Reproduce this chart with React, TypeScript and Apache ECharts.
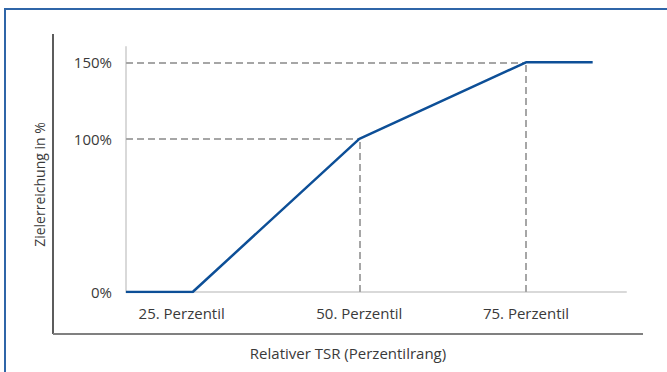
import React, { useEffect, useRef } from "react";
import * as echarts from "echarts";

const xValues = [15, 25, 50, 75, 85];
const yValues = [0, 0, 100, 150, 150];
const xTickValues = [25, 50, 75];
const xTickLabels = ["25. Perzentil", "50. Perzentil", "75. Perzentil"];
const yTickValues = [0, 100, 150];
const refPoints: [number, number][] = [
  [50, 100],
  [75, 150],
];
const X_MIN = 15;
const X_MAX = 90;
const Y_MIN = 0;
const Y_MAX = 160;

export default function App() {
  const ref = useRef<HTMLDivElement>(null);
  useEffect(() => {
    if (!ref.current) return;
    const chart = echarts.init(ref.current, null, { renderer: "svg" });
    const font = "'Open Sans', 'Noto Sans', sans-serif";
    const dash = { color: "#a6a6a6", width: 2, type: [7, 4] as any };
    const markData: any[] = [];
    refPoints.forEach(([x, y]) => {
      markData.push([{ coord: [X_MIN, y] }, { coord: [x, y] }]);
      markData.push([{ coord: [x, Y_MIN] }, { coord: [x, y] }]);
    });
    chart.setOption({
      animation: false,
      backgroundColor: "#ffffff",
      grid: { left: 126, right: 41, top: 47, bottom: 80, containLabel: false },
      xAxis: {
        type: "value",
        min: X_MIN,
        max: X_MAX,
        axisLine: { show: true, lineStyle: { color: "#d9d9d9", width: 2 } },
        axisTick: { show: false },
        splitLine: { show: false },
        axisLabel: {
          customValues: xTickValues,
          margin: 13,
          fontFamily: font,
          fontSize: 15,
          color: "#3a3a3a",
          formatter: (v: number) => {
            const i = xTickValues.indexOf(v);
            if (i < 0) return "";
            return i === 0 ? "{s|" + xTickLabels[i] + "}" : xTickLabels[i];
          },
          rich: {
            s: { fontFamily: font, fontSize: 15, color: "#3a3a3a", padding: [0, 22, 0, 0] },
          },
        },
        name: "Relativer TSR (Perzentilrang)",
        nameLocation: "middle",
        nameGap: 53,
        nameTextStyle: {
          fontFamily: font,
          fontSize: 15,
          color: "#3a3a3a",
          padding: [0, 56, 0, 0],
        },
      },
      yAxis: {
        type: "value",
        min: Y_MIN,
        max: Y_MAX,
        axisLine: { show: true, lineStyle: { color: "#d9d9d9", width: 2 } },
        axisTick: { show: false },
        splitLine: { show: false },
        axisLabel: {
          customValues: yTickValues,
          margin: 14,
          fontFamily: font,
          fontSize: 15,
          color: "#3a3a3a",
          formatter: (v: number) => v + "%",
        },
        name: "Zielerreichung in %",
        nameLocation: "middle",
        nameGap: 80,
        nameRotate: 90,
        nameTextStyle: {
          fontFamily: font,
          fontSize: 14,
          color: "#3a3a3a",
          padding: [0, 30, 0, 0],
        },
      },
      graphic: [
        {
          type: "rect",
          shape: { x: 5, y: 9, width: 700, height: 400 },
          style: { fill: "none", stroke: "#2f65a8", lineWidth: 2 },
          silent: true,
        },
        {
          type: "line",
          shape: { x1: 53, y1: 34, x2: 53, y2: 334 },
          style: { stroke: "#262626", lineWidth: 1.5 },
          silent: true,
        },
        {
          type: "line",
          shape: { x1: 53, y1: 334, x2: 643, y2: 334 },
          style: { stroke: "#808080", lineWidth: 2 },
          silent: true,
        },
      ],
      series: [
        {
          type: "line",
          data: xValues.map((x, i) => [x, yValues[i]]),
          showSymbol: false,
          symbol: "none",
          lineStyle: { color: "#0d4f97", width: 2.5 },
          z: 5,
          markLine: {
            silent: true,
            symbol: "none",
            label: { show: false },
            lineStyle: dash,
            data: markData,
            z: 3,
          },
        },
      ],
    });
    return () => chart.dispose();
  }, []);
  return (
    <div
      ref={ref}
      style={{ position: "fixed", left: 0, top: 0, width: 667, height: 372 }}
    />
  );
}
